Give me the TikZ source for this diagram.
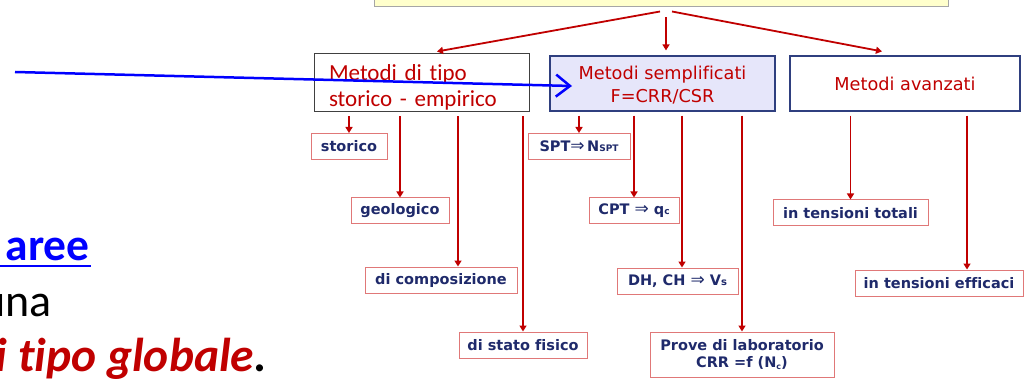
\documentclass[tikz,border=0pt]{standalone}
\usepackage{fontspec}
\setmainfont[Ligatures=NoCommon]{Carlito}
\newfontfamily\vfont[Ligatures=NoCommon]{DejaVu Sans}
\usetikzlibrary{arrows.meta,calc}
\definecolor{tred}{HTML}{C00000}
\definecolor{navy}{HTML}{1F2A6B}
\definecolor{bnavy}{HTML}{2F3F7F}
\definecolor{pinkb}{HTML}{E07878}
\definecolor{lav}{HTML}{E6E6FA}
\definecolor{ylw}{HTML}{FFFFCC}
\definecolor{lblue}{HTML}{0000FF}
\newcommand{\darr}{{\mdseries\fontsize{17}{17}\selectfont ⇒}}
\begin{document}
\begin{tikzpicture}[x=1pt,y=-1pt,
  topbox/.style={draw=gray!70, line width=1pt, fill=ylw, minimum width=574pt, minimum height=16pt, inner sep=0pt},
  bigbox/.style={draw=bnavy, line width=1.2pt, minimum width=#1, minimum height=55pt, inner sep=0pt,
    text=tred, font=\vfont\fontsize{17.7}{23}\selectfont, align=center},
  subbox/.style={draw=pinkb, line width=1pt, fill=white, minimum height=26pt, inner sep=0pt,
    text=navy, font=\vfont\bfseries\fontsize{14.5}{17}\selectfont, align=center, minimum width=#1},
  rarr/.style={draw=tred, line width=1.8pt, -{Triangle[length=6pt,width=7pt]}, shorten <=4pt},
  tarr/.style={draw=tred, line width=1.8pt, -{Triangle[length=6pt,width=7pt]}},
  slide/.style={anchor=base east, inner sep=0pt, font=\fontsize{46}{56}\selectfont}
]
\useasboundingbox (0,0) rectangle (1027,379);
\clip (0,0) rectangle (1027,379);

% left slide text
\node[slide, text=lblue, font=\bfseries\fontsize{45.5}{56}\selectfont] (aree) at (90,260) {aree};
\draw[lblue, line width=2.5pt] (0,266) -- (91,266);
\node[slide] (una) at (52,316) {una};
\node[slide, font=\bfseries\itshape\fontsize{47.5}{56}\selectfont] (glob) at (267,371) {\textcolor{tred}{i tipo globale}.};

% top box
\node[topbox] (top) at (661,-1) {};

% main boxes
\node[draw=black!75, line width=1pt, fill=white, minimum width=215pt, minimum height=58pt, inner xsep=15pt, inner ysep=0pt,
  text width=185pt, align=left, text=tred, font=\fontsize{23}{26.5}\selectfont] (b1) at (421.5,83)
  {\rule{0pt}{25pt}Metodi di tipo\\storico - empirico};
\node[bigbox=225pt, fill=lav] (b2) at (662.5,83.5) {\rule{0pt}{17pt}Metodi semplificati\\F=CRR/CSR};
\node[bigbox=230pt, fill=white] (b3) at (905,83.5) {Metodi avanzati};

% sub boxes
\node[subbox=76pt] (st) at (349,146.5) {storico};
\node[subbox=98pt] (geo) at (400,211) {geologico};
\node[subbox=152pt] (comp) at (441,280) {di composizione};
\node[subbox=128pt] (sf) at (523,345) {di stato fisico};
\node[subbox=102pt] (spt) at (579,146.5) {SPT\darr\,N{\fontsize{9}{9}\selectfont SPT}};
\node[subbox=90pt] (cpt) at (634,211) {CPT \darr\ q{\fontsize{9}{9}\selectfont c}};
\node[subbox=121pt] (dh) at (677.5,281) {DH, CH \darr\ V{\fontsize{10}{10}\selectfont s}};
\node[subbox=184pt, minimum height=45pt] (lab) at (742,354.5) {Prove di laboratorio\\CRR =f (N\raisebox{-2pt}{\fontsize{8}{8}\selectfont c})};
\node[subbox=155pt] (tot) at (850.5,213) {in tensioni totali};
\node[subbox=168pt] (eff) at (939,283) {in tensioni efficaci};

% top arrows
\coordinate (aL) at ($(top.south)+(-1,4)$);
\coordinate (aR) at ($(top.south)+(11,4)$);
\coordinate (aM) at ($(top.south)+(5,10)$);
\coordinate (tL) at ($(b1.north)+(15.5,-2)$);
\coordinate (tM) at ($(b2.north)+(3.5,-5)$);
\coordinate (tR) at ($(b3.north)+(-23,-4)$);
\draw[tarr] (aL) -- (tL);
\draw[tarr] (aM) -- (tM);
\draw[tarr] (aR) -- (tR);

% vertical arrows
\coordinate (compin) at ($(comp.north)+(17,0)$);
\coordinate (dhin) at ($(dh.north)+(4.5,0)$);
\coordinate (effin) at ($(eff.north)+(28,0)$);
\draw[rarr] (b1.south -| st.north) -- (st.north);
\draw[rarr] (b1.south -| geo.north) -- (geo.north);
\draw[rarr] (b1.south -| compin) -- (compin);
\draw[rarr] (b1.south -| sf.north) -- (sf.north);
\draw[rarr] (b2.south -| spt.north) -- (spt.north);
\draw[rarr] (b2.south -| cpt.north) -- (cpt.north);
\draw[rarr] (b2.south -| dhin) -- (dhin);
\draw[rarr] (b2.south -| lab.north) -- (lab.north);
\draw[rarr] (b3.south -| tot.north) -- (tot.north);
\draw[rarr] (b3.south -| effin) -- (effin);

% blue arrow
\coordinate (bs) at (15,72);
\coordinate (be) at (572,86);
\draw[lblue, line width=2.5pt, -{Straight Barb[length=14pt,width=22pt,line width=2.5pt]}] (bs) -- (be);
\end{tikzpicture}
\end{document}
